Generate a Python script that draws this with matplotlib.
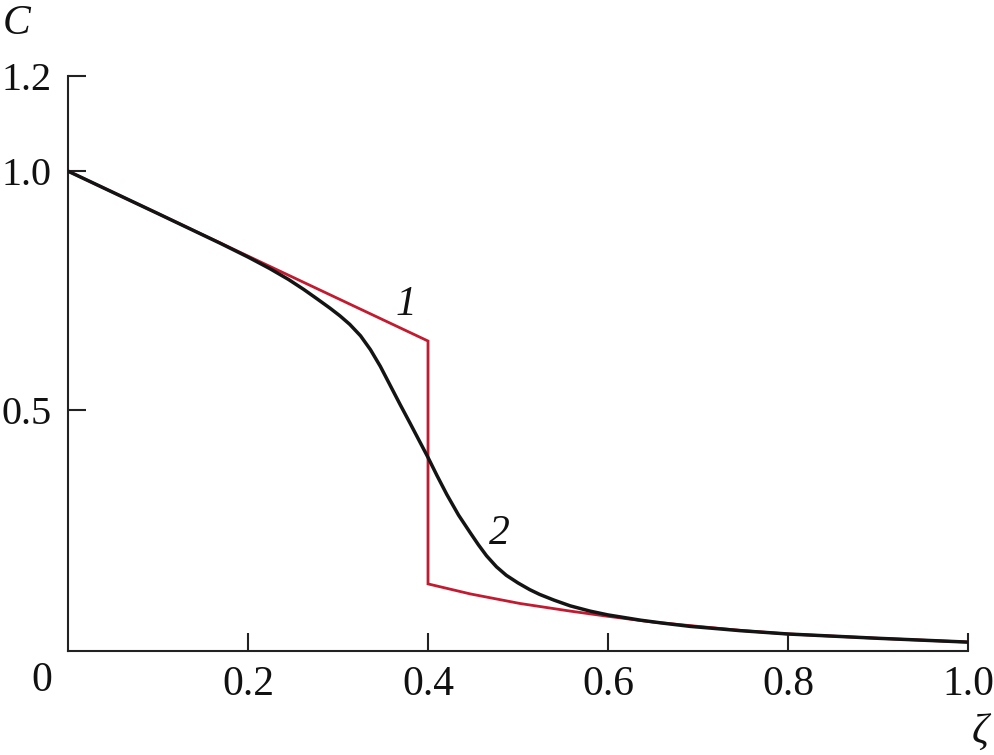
import matplotlib
matplotlib.use("Agg")
import matplotlib.pyplot as plt

plt.rcParams['font.family'] = ['Liberation Serif', 'DejaVu Serif']

# Curve 1 (red)
zeta1 = [0.0, 0.4, 0.4, 0.447, 0.502, 0.558, 0.60, 0.65, 0.70, 0.75, 0.80, 0.90, 1.0]
c1 = [1.0, 0.644, 0.135, 0.114, 0.094, 0.078, 0.067, 0.055, 0.046, 0.037, 0.030, 0.021, 0.013]

# Curve 2 (black)
zeta2 = [0.0, 0.1, 0.169, 0.2, 0.224, 0.245, 0.262, 0.277, 0.291, 0.302, 0.313, 0.325,
         0.336, 0.347, 0.358, 0.369, 0.380, 0.390, 0.400, 0.410, 0.421, 0.434, 0.447,
         0.456, 0.465, 0.476, 0.487, 0.500, 0.513, 0.524, 0.540, 0.558, 0.580, 0.600,
         0.636, 0.660, 0.691, 0.747, 0.80, 0.90, 1.0]
c2 = [1.0, 0.911, 0.849, 0.820, 0.796, 0.773, 0.752, 0.732, 0.713, 0.697, 0.679, 0.655,
      0.626, 0.591, 0.551, 0.511, 0.472, 0.436, 0.400, 0.362, 0.322, 0.279, 0.242,
      0.217, 0.194, 0.171, 0.153, 0.137, 0.123, 0.113, 0.101, 0.089, 0.078, 0.070,
      0.059, 0.053, 0.046, 0.037, 0.030, 0.021, 0.013]

xticks = [0.2, 0.4, 0.6, 0.8, 1.0]
xticklabels = ["0.2", "0.4", "0.6", "0.8", "1.0"]
yticks = [0.5, 1.0, 1.2]
yticklabels = ["0.5", "1.0", "1.2"]

fig = plt.figure(figsize=(9.95, 7.55), dpi=100)
ax = fig.add_axes([68/995, 1-650.7/755, 900/995, (650.7-75.7)/755])

ax.plot(zeta1, c1, color='#c41a30', lw=2.0, solid_joinstyle='miter', zorder=2)
ax.plot(zeta2, c2, color='#141414', lw=2.5, solid_joinstyle='round', zorder=3)

ax.set_xlim(0, 1.0)
ax.set_ylim(-0.005, 1.2)
for s in ['top', 'right']:
    ax.spines[s].set_visible(False)
for s in ['left', 'bottom']:
    ax.spines[s].set_linewidth(1.5)
    ax.spines[s].set_color('#222222')

ax.set_xticks(xticks)
ax.set_xticklabels(xticklabels)
ax.set_yticks(yticks)
ax.set_yticklabels(yticklabels)
ax.tick_params(axis='both', direction='in', length=13, width=1.5, color='#222222',
               labelsize=29, labelcolor='#111111')
ax.tick_params(axis='x', labelsize=30, pad=11)
ax.tick_params(axis='y', pad=12)

fig.text(42/995, 1-681/755, "0", fontsize=30, ha='center', va='center', color='#111111')
fig.text(17/995, 1-24/755, "C", fontsize=30, style='italic', ha='center', va='center', color='#111111')
fig.text(980/995, 1-734/755, "ζ", fontsize=30, style='italic', ha='center', va='center', color='#111111')
ax.text(0.375, 0.72, "1", fontsize=30, style='italic', ha='center', va='center', color='#111111')
ax.text(0.479, 0.240, "2", fontsize=30, style='italic', ha='center', va='center', color='#111111')

fig.savefig("out.png", dpi=100)
